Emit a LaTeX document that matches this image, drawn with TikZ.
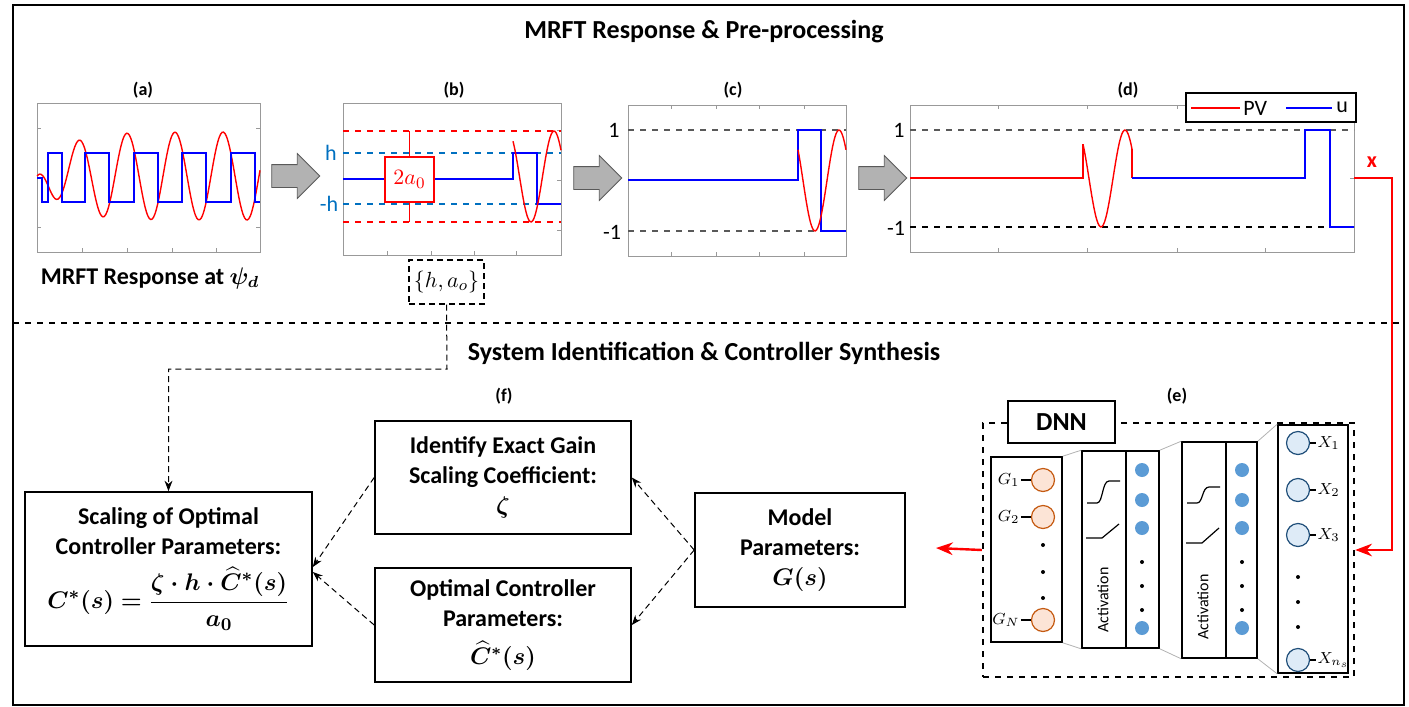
\documentclass[tikz,border=0pt]{standalone}
\usepackage{amsmath}
\usepackage{bm}
\usepackage{fontspec}
\setmainfont{Carlito}
\usetikzlibrary{arrows.meta,calc,positioning,shapes.arrows}

\definecolor{mred}{RGB}{255,0,0}
\definecolor{mblue}{RGB}{0,0,255}
\definecolor{hblue}{RGB}{0,112,192}
\definecolor{gfill}{RGB}{252,228,214}
\definecolor{gdraw}{RGB}{197,90,17}
\definecolor{xfill}{RGB}{222,235,247}
\definecolor{xdraw}{RGB}{31,78,121}
\definecolor{dotblue}{RGB}{91,155,213}

\tikzset{
  plotbox/.style={draw=gray!80, fill=white, line width=0.4pt, inner sep=0pt},
  tick/.style={gray!80, line width=0.4pt},
  redcurve/.style={mred, line width=0.7pt},
  bluecurve/.style={mblue, line width=0.8pt},
  sublabel/.style={font=\fontsize{9}{10}\selectfont\bfseries},
  blockarrow/.style={single arrow, draw=gray!70!black, fill=gray!60, minimum width=22pt, single arrow head extend=5.5pt, minimum height=24pt, inner sep=5.5pt, single arrow tip angle=90},
  stagebox/.style={draw, line width=0.8pt, align=center, inner sep=0pt, font=\fontsize{12}{15}\selectfont\bfseries},
  dotarrow/.style={densely dashed, line width=0.5pt, -{Stealth[length=5pt]}},
  layerbox/.style={draw, line width=0.8pt, inner sep=0pt},
  gcirc/.style={circle, draw=gdraw, fill=gfill, line width=0.6pt, minimum size=11.5pt, inner sep=0pt},
  xcirc/.style={circle, draw=xdraw, fill=xfill, line width=0.6pt, minimum size=11.5pt, inner sep=0pt},
  bdot/.style={circle, fill=dotblue, minimum size=7pt, inner sep=0pt},
  nlabel/.style={font=\fontsize{8}{9}\selectfont, inner sep=0.5pt}
}

\begin{document}
\begin{tikzpicture}[x=0.5pt, y=-0.5pt, >=Stealth]
\useasboundingbox (0,0) rectangle (1409,707);
\draw[line width=0.8pt] (13,5) rectangle (1404,705);
\draw[dashed, line width=1pt] (13,323) -- (1404,323);

\node[font=\fontsize{13}{15}\selectfont\bfseries] (title1) at (704,32) {MRFT Response \& Pre-processing};
\node[font=\fontsize{13}{15}\selectfont\bfseries] (title2) at (704,353) {System Identification \& Controller Synthesis};

% (a) raw response
\node[plotbox, minimum width=111.5pt, minimum height=74.5pt] (pa) at (148.5,177.5) {};
\node[sublabel] (la) at (143,90) {(a)};
\foreach \t in {82,127,172,216} \draw[tick] (\t,252) -- (\t,248);
\foreach \t in {128,227} {\draw[tick] (37,\t) -- (41,\t); \draw[tick] (260,\t) -- (256,\t);}
\draw[redcurve] plot[domain=37:260, samples=160, smooth] (\x, {176-44*(1-exp(-(\x-37)/25))*sin(7.5*(\x-67))});
\draw[bluecurve] (37,178) -- (42,178) -- (42,202) -- (48,202) -- (48,153) -- (62,153) -- (62,202) -- (85,202) -- (85,153) -- (109,153) -- (109,202) -- (134,202) -- (134,153) -- (158,153) -- (158,202) -- (182,202) -- (182,153) -- (206,153) -- (206,202) -- (231,202) -- (231,153) -- (255,153) -- (255,202) -- (260,202);
\node[font=\fontsize{12}{14}\selectfont\bfseries] (capa) at (150,278) {MRFT Response at $\bm{\psi_d}$};

\node[blockarrow] (arr1) at (290,176) {};

% (b) amplitude and relay
\node[plotbox, minimum width=109pt, minimum height=76pt] (pb) at (452,179) {};
\node[sublabel] (lb) at (454,90) {(b)};
\foreach \t in {387,431,474,516} \draw[tick] (\t,255) -- (\t,251);
\foreach \t in {130,180,230} \draw[tick] (561,\t) -- (557,\t);
\draw[mred, dashed, line width=0.7pt] (343,131) -- (561,131);
\draw[mred, dashed, line width=0.7pt] (343,222) -- (561,222);
\draw[hblue, dashed, line width=0.7pt] (343,153) -- (561,153);
\draw[hblue, dashed, line width=0.7pt] (343,204) -- (561,204);
\node[text=hblue, font=\fontsize{11}{12}\selectfont] (hh) at (331,153) {h};
\node[text=hblue, font=\fontsize{11}{12}\selectfont] (mh) at (329,204) {-h};
\draw[bluecurve] (343,179) -- (513,179) -- (513,153) -- (537,153) -- (537,204) -- (561,204);
\draw[redcurve] plot[domain=513:561, samples=40, smooth] (\x, {176.5-45.5*cos(7.826*(\x-554))});
\draw[mred, line width=0.5pt] (409,131) -- (409,222);
\node[draw=mred, fill=white, line width=0.8pt, text=mred, minimum width=24.5pt, minimum height=22.5pt, inner sep=0pt, font=\fontsize{11}{12}\selectfont] (amp) at (409.5,179.5) {$2a_0$};
\node[draw, densely dashed, line width=0.6pt, minimum width=37.5pt, minimum height=22pt, inner sep=0pt, font=\fontsize{11}{12}\selectfont] (ha) at (446.5,282) {$\{h,a_o\}$};

\node[blockarrow] (arr2) at (592,178) {};

% (c) normalised
\node[plotbox, minimum width=109pt, minimum height=75.5pt] (pc) at (737,180.5) {};
\node[sublabel] (lc) at (733,90) {(c)};
\foreach \t in {671,716,759,804} {\draw[tick] (\t,256) -- (\t,252); \draw[tick] (\t,105) -- (\t,109);}
\draw[gray!70!black, dashed, line width=0.6pt] (628,130) -- (846,130);
\draw[gray!70!black, dashed, line width=0.6pt] (628,231) -- (846,231);
\node[font=\fontsize{11}{12}\selectfont] (c1) at (614,130) {1};
\node[font=\fontsize{11}{12}\selectfont] (cm1) at (612,232) {-1};
\draw[bluecurve] (628,180) -- (798,180) -- (798,130) -- (821,130) -- (821,231) -- (846,231);
\draw[redcurve] plot[domain=798:846, samples=40, smooth] (\x, {180.5-50.5*cos(7.5*(\x-839))});

\node[blockarrow] (arr3) at (877,178) {};

% (d) network input
\node[plotbox, minimum width=222pt, minimum height=73.5pt] (pd) at (1132,178.5) {};
\node[sublabel] (ld) at (1128,90) {(d)};
\foreach \t in {998,1087,1177,1265} {\draw[tick] (\t,252) -- (\t,248); \draw[tick] (\t,105) -- (\t,109);}
\draw[tick] (1354,178) -- (1350,178);
\draw[gray!70!black, dashed, line width=0.6pt] (910,130) -- (1354,130);
\draw[black, dashed, line width=0.6pt] (910,227) -- (1354,227);
\node[font=\fontsize{11}{12}\selectfont] (d1) at (899,130) {1};
\node[font=\fontsize{11}{12}\selectfont] (dm1) at (896,228) {-1};
\draw[redcurve] (910,178) -- (1083,178) -- (1083,144);
\draw[redcurve] plot[domain=1083:1132, samples=40, smooth] (\x, {178.5-48.5*cos(7.5*(\x-1125))});
\draw[redcurve] (1132,149) -- (1132,178);
\draw[bluecurve] (1132,178) -- (1305,178) -- (1305,130) -- (1330,130) -- (1330,227) -- (1354,227);
\node[draw, fill=white, line width=0.8pt, minimum width=85pt, minimum height=14.5pt, inner sep=0pt] (leg) at (1271,107.5) {};
\draw[mred, line width=0.6pt] (1191,108) -- (1240,108);
\node[font=\fontsize{11}{12}\selectfont, anchor=west, inner sep=0pt] (lpv) at (1243,108) {PV};
\draw[mblue, line width=0.6pt] (1286,108) -- (1332,108);
\node[font=\fontsize{11}{12}\selectfont, anchor=west, inner sep=0pt] (lu) at (1336,107) {u};
\node[text=mred, font=\fontsize{11}{12}\selectfont\bfseries] (lx) at (1372,162) {x};

% bottom stage
\node[sublabel] (lf) at (504,396) {(f)};
\node[sublabel] (le) at (1177,396) {(e)};
\node[stagebox, minimum width=143.5pt, minimum height=77pt] (scal) at (168.5,569) {Scaling of Optimal\\Controller Parameters:\\[5pt]{\fontsize{13}{15}\selectfont$\bm{C^*(s)=\dfrac{\zeta\cdot h\cdot \widehat{C}^*(s)}{a_0}}$}};
\node[stagebox, minimum width=128pt, minimum height=56.5pt] (gain) at (503,477.5) {Identify Exact Gain\\Scaling Coefficient:\\$\bm{\zeta}$};
\node[stagebox, minimum width=128pt, minimum height=57pt] (ctrl) at (503,625) {Optimal Controller\\Parameters:\\[4pt]$\bm{\widehat{C}^*(s)}$};
\node[stagebox, minimum width=105pt, minimum height=57pt] (model) at (800,550) {Model\\Parameters:\\$\bm{G(s)}$};

\draw[densely dashed, line width=0.5pt, ->] (ha.south) -- (447,369) -| (scal.north);
\draw[dotarrow] (model.west) -- (gain.east);
\draw[dotarrow] (model.west) -- (ctrl.east);
\draw[dotarrow] (gain.west) -- ($(scal.east)+(0,-2)$);
\draw[dotarrow] (ctrl.west) -- ($(scal.east)+(0,3)$);

% network
\node[draw, dashed, line width=1.2pt, minimum width=185.5pt, minimum height=127pt, inner sep=0pt] (dnn) at (1168.5,550) {};
\node[draw, fill=white, line width=0.8pt, minimum width=53.5pt, minimum height=21pt, inner sep=0pt, font=\fontsize{13}{15}\selectfont\bfseries] (dnnlab) at (1061.5,422) {DNN};
\node[layerbox, minimum width=35.5pt, minimum height=92.5pt] (lin) at (1026.5,549.5) {};
\node[layerbox, minimum width=22pt, minimum height=98.5pt] (act1) at (1104,549.5) {};
\node[layerbox, minimum width=16.5pt, minimum height=98.5pt] (hid1) at (1142.5,549.5) {};
\node[layerbox, minimum width=22pt, minimum height=108pt] (act2) at (1204,550) {};
\node[layerbox, minimum width=15.5pt, minimum height=108pt] (hid2) at (1241.5,550) {};
\node[layerbox, minimum width=35pt, minimum height=124pt] (lout) at (1313,549) {};
\draw[gray!60] (lin.north east) -- (act1.north west) (lin.south east) -- (act1.south west);
\draw[gray!60] (hid1.north east) -- (act2.north west) (hid1.south east) -- (act2.south west);
\draw[gray!60] (hid2.north east) -- (lout.north west) (hid2.south east) -- (lout.south west);

\foreach \y/\n/\s in {480/1/1, 517/2/2, 620/3/N} {
  \node[gcirc] (g\n) at (1043,\y) {};
  \node[nlabel, left=5pt of g\n] (gl\n) {$G_{\s}$};
  \draw[line width=0.6pt] (gl\n) -- (g\n);
}
\foreach \y in {545,572,598} \fill (1043,\y) circle (1pt);

\foreach \y/\n/\s in {443/1/1, 490/2/2, 535/3/3, 660/4/{n_s}} {
  \node[xcirc] (x\n) at (1298,\y) {};
  \node[nlabel, right=3pt of x\n] (xl\n) {$X_{\s}$};
  \draw[line width=0.6pt] (x\n) -- (xl\n);
}
\foreach \y in {577,602,627} \fill (1298,\y) circle (1pt);

\foreach \y/\n in {470/1, 500/2, 528/3, 628/4} {
  \node[bdot] (ha\n) at (1142,\y) {};
  \node[bdot] (hb\n) at (1242,\y) {};
}
\foreach \y in {562,586,610} {\fill (1142,\y) circle (1pt); \fill (1242,\y) circle (1pt);}

\draw[line width=0.6pt] (1087,503) -- (1097,503) .. controls (1103,503) and (1102,481) .. (1109,481) -- (1120,481);
\draw[line width=0.6pt] (1086,538) -- (1102,538) -- (1119,524);
\node[rotate=90, font=\fontsize{8}{9}\selectfont] (at1) at (1103,600) {Activation};
\draw[line width=0.6pt] (1187,503) -- (1197,503) .. controls (1203,503) and (1202,487) .. (1209,487) -- (1220,487);
\draw[line width=0.6pt] (1186,543) -- (1202,543) -- (1219,528);
\node[rotate=90, font=\fontsize{8}{9}\selectfont] (at2) at (1203,607) {Activation};

% red data path
\coordinate (xout) at (1392,178);
\coordinate (modin) at (936,548);
\draw[mred, line width=1.2pt, ->] (1354,178) -- (xout) |- (dnn.east);
\draw[mred, line width=1.2pt, ->] (dnn.west) -- (modin);
\end{tikzpicture}
\end{document}
